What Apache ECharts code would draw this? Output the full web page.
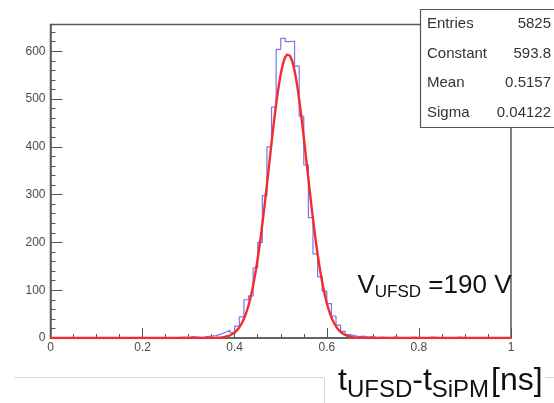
<!DOCTYPE html>
<html>
<head>
<meta charset="utf-8">
<script src="https://cdn.jsdelivr.net/npm/echarts@6/dist/echarts.min.js"></script>
<style>
  html, body { margin: 0; padding: 0; background: #fff; }
  #c { width: 554px; height: 403px; }
</style>
</head>
<body>
<div id="c"></div>
<script>
// Time difference histogram: 100 bins of width 0.01 ns over [0, 1]
const binLow = 0;
const binWidth = 0.01;
const counts = [
  0, 0, 0, 0, 0, 0, 0, 0, 0, 0,
  0, 0, 0, 0, 0, 0, 0, 0, 0, 0,
  0, 0, 0, 0, 0, 1, 0, 1, 2, 1,
  3, 2, 1, 3, 4, 5, 8, 12, 16, 11,
  25, 44, 80, 88, 147, 200, 298, 400, 483, 604,
  627, 620, 621, 569, 464, 362, 252, 176, 128, 98,
  72, 46, 27, 14, 7, 5, 3, 4, 2, 3,
  1, 2, 1, 1, 2, 1, 0, 1, 2, 1,
  0, 1, 2, 1, 0, 1, 0, 1, 2, 1,
  0, 1, 0, 1, 0, 0, 0, 0, 0, 0
];

// Gaussian fit parameters (also listed in the statistics box)
const fitConstant = 593.8;
const fitMean = 0.5157;
const fitSigma = 0.04122;
const entries = 5825;
const statLabels = ['Entries', 'Constant', 'Mean', 'Sigma'];
const statValues = [String(entries), fitConstant.toFixed(1), fitMean.toFixed(4), fitSigma.toFixed(5)];

// Axis ranges
const xMin = 0, xMax = 1, xMajor = 0.2, xMinor = 0.05;
const yMin = 0, yMax = 656, yMajor = 100, yMinor = 20;

const FONT = '"Liberation Sans", Arial, Helvetica, sans-serif';

// Histogram outline as a step line (one point per lower bin edge, plus the closing edge)
const histPoints = counts.map((c, i) => [+(binLow + i * binWidth).toFixed(4), c]);
histPoints.push([+(binLow + counts.length * binWidth).toFixed(4), counts[counts.length - 1]]);

// Fitted Gaussian evaluated across the axis range
const fitPoints = [];
const nFit = 500;
for (let k = 0; k <= nFit; k++) {
  const x = xMin + (xMax - xMin) * k / nFit;
  const z = (x - fitMean) / fitSigma;
  fitPoints.push([x, fitConstant * Math.exp(-0.5 * z * z)]);
}

// Text measuring for sub-scripted labels
const measureCtx = document.createElement('canvas').getContext('2d');
function textWidth(t, size) {
  measureCtx.font = size + 'px ' + FONT;
  return measureCtx.measureText(t).width;
}
function subscriptText(parts, x0, yMid) {
  const out = [];
  let x = x0;
  parts.forEach(p => {
    out.push({
      type: 'text', z: 100,
      style: {
        text: p.t, x: x, y: yMid + (p.dy || 0),
        fill: '#111', font: p.size + 'px ' + FONT,
        textAlign: 'left', textVerticalAlign: 'middle'
      }
    });
    x += textWidth(p.t, p.size) + (p.gap || 0);
  });
  return out;
}

const gridBox = { left: 50.5, right: 43, top: 24.5, bottom: 65 };
const labelColor = '#4a4a4a';
const frameColor = '#5a5a5a';

const statsBox = { x: 420.5, y: 9.5, w: 150, h: 118 };
const statsGraphics = [{
  type: 'rect', z: 90,
  shape: { x: statsBox.x, y: statsBox.y, width: statsBox.w, height: statsBox.h },
  style: { fill: '#fff', stroke: '#555', lineWidth: 1.2 }
}];
statLabels.forEach((lab, i) => {
  const yc = statsBox.y + statsBox.h * (i + 0.5) / statLabels.length;
  statsGraphics.push({
    type: 'text', z: 95,
    style: { text: lab, x: 427, y: yc, fill: '#333', font: '15px ' + FONT, textAlign: 'left', textVerticalAlign: 'middle' }
  });
  statsGraphics.push({
    type: 'text', z: 95,
    style: { text: statValues[i], x: 551, y: yc, fill: '#333', font: '15px ' + FONT, textAlign: 'right', textVerticalAlign: 'middle' }
  });
});

const voltageLabel = subscriptText([
  { t: 'V', size: 26 },
  { t: 'UFSD', size: 17, dy: 7 },
  { t: ' =190 V', size: 26 }
], 357.5, 285.5);

const axisTitle = subscriptText([
  { t: 't', size: 32 },
  { t: 'UFSD', size: 24, dy: 9 },
  { t: '-t', size: 32 },
  { t: 'SiPM', size: 24, dy: 9, gap: 2 },
  { t: '[ns]', size: 32 }
], 338, 381);

const pageLines = [
  { type: 'line', z: 1, shape: { x1: 14, y1: 377.5, x2: 324, y2: 377.5 }, style: { stroke: '#d9d9d9', lineWidth: 1 } },
  { type: 'line', z: 1, shape: { x1: 324.5, y1: 377.5, x2: 324.5, y2: 403 }, style: { stroke: '#d9d9d9', lineWidth: 1 } },
  { type: 'line', z: 1, shape: { x1: 545, y1: 377.5, x2: 554, y2: 377.5 }, style: { stroke: '#d9d9d9', lineWidth: 1 } }
];

const chart = echarts.init(document.getElementById('c'), null, { renderer: 'canvas' });
chart.setOption({
  animation: false,
  backgroundColor: '#fff',
  grid: Object.assign({ show: true, borderColor: frameColor, borderWidth: 1.5, backgroundColor: 'transparent' }, gridBox),
  xAxis: [
    {
      type: 'value', min: xMin, max: xMax, interval: xMajor,
      axisLine: { show: true, onZero: false, lineStyle: { color: frameColor, width: 1.5 } },
      axisTick: { show: true, inside: true, length: 10, lineStyle: { color: '#555' } },
      axisLabel: { show: true, margin: 4, color: labelColor, fontSize: 12, fontFamily: FONT,
        formatter: v => String(+v.toFixed(2)) },
      splitLine: { show: false }
    },
    {
      type: 'value', min: xMin, max: xMax, interval: xMinor, position: 'bottom',
      axisLine: { show: false },
      axisTick: { show: true, inside: true, length: 4, lineStyle: { color: '#555' } },
      axisLabel: { show: false },
      splitLine: { show: false }
    }
  ],
  yAxis: [
    {
      type: 'value', min: yMin, max: yMax, interval: yMajor,
      axisLine: { show: true, onZero: false, lineStyle: { color: frameColor, width: 1.5 } },
      axisTick: { show: true, inside: true, length: 12, lineStyle: { color: '#555' } },
      axisLabel: { show: true, margin: 5, color: labelColor, fontSize: 12, fontFamily: FONT,
        showMaxLabel: false,
        formatter: v => (Math.abs(v % yMajor) < 1e-6 ? String(v) : '') },
      splitLine: { show: false }
    },
    {
      type: 'value', min: yMin, max: yMax, interval: yMinor, position: 'left',
      axisLine: { show: false },
      axisTick: { show: true, inside: true, length: 5, lineStyle: { color: '#555' } },
      axisLabel: { show: false },
      splitLine: { show: false }
    }
  ],
  series: [
    {
      name: 'histogram', type: 'line', step: 'end', data: histPoints,
      xAxisIndex: 0, yAxisIndex: 0,
      symbol: 'none', lineStyle: { color: '#7676ee', width: 1.2 }, z: 3
    },
    {
      name: 'gauss fit', type: 'line', data: fitPoints,
      xAxisIndex: 0, yAxisIndex: 0,
      symbol: 'none', lineStyle: { color: '#f02c2c', width: 2.4 }, z: 4
    }
  ],
  graphic: [].concat(pageLines, statsGraphics, voltageLabel, axisTitle)
});
</script>
</body>
</html>
